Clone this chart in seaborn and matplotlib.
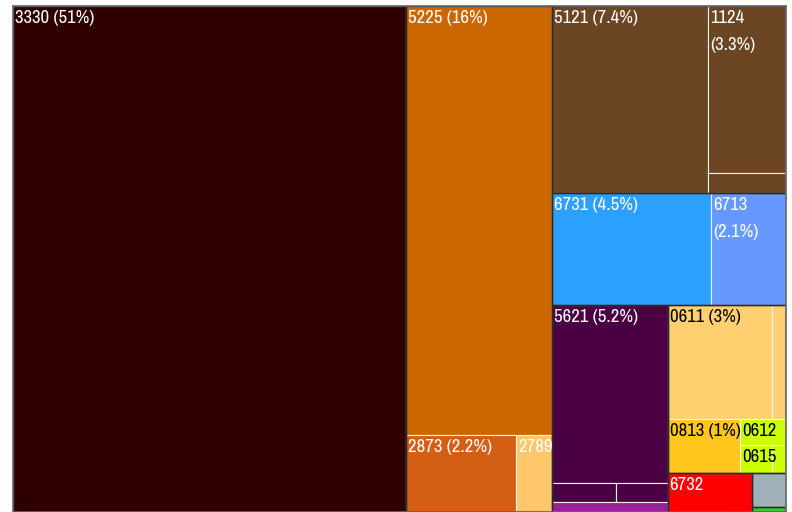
"""
Treemap of export shares by product code.
"""

import os
import matplotlib
matplotlib.use("Agg")
import matplotlib.pyplot as plt
import matplotlib.patches as mpatches
from matplotlib import font_manager
import seaborn as sns


# -----------------------------------
# Data
# -----------------------------------

codes = [
    "3330", "5225", "2873", "2789", "5121", "1124", "",
    "6731", "6713", "5621", "", "", "", "0611", "",
    "0813", "0612", "0615", "", "6732", "", "",
]

shares = [
    50.8, 16.0, 2.17, 0.71, 7.42, 3.31, 0.40,
    4.53, 2.14, 5.24, 0.31, 0.25, 0.29, 3.04, 0.41,
    1.0, 0.31, 0.22, 0.10, 0.85, 0.30, 0.04,
]

groups = [
    "fuel", "chem", "chem", "chem", "brown", "brown", "brown",
    "blue", "blue", "purple", "purple", "purple", "purple", "food", "food",
    "food", "food", "food", "food", "red", "grey", "green",
]

colors = [
    "#2e0000", "#cc6600", "#d45f14", "#ffc66b", "#6c4522", "#6c4522", "#6c4522",
    "#2ba0ff", "#6699ff", "#4b0044", "#4b0044", "#4b0044", "#9b1f9b", "#ffd06f", "#ffd06f",
    "#ffc61e", "#ccff00", "#ccff00", "#ccff00", "#ff0000", "#a0b0ba", "#33cc33",
]

text_colors = [
    "white", "white", "white", "white", "white", "white", "white",
    "white", "white", "white", "white", "white", "white", "black", "black",
    "black", "black", "black", "black", "white", "white", "white",
]

# nesting of the cells (indices into the lists above)
tree = [
    0,
    [1, [2, 3]],
    [
        [4, [5, 6]],
        [7, 8],
        [
            [9, [10, 11], 12],
            [
                [[13, 14], [15, [16, [17, 18]]]],
                [19, [20, 21]],
            ],
        ],
    ],
]


# -----------------------------------
# Layout
# -----------------------------------

def node_value(node):
    if isinstance(node, int):
        return shares[node]
    return sum(node_value(n) for n in node)


def place(node, x, y, w, h, out):
    if isinstance(node, int):
        out[node] = (x, y, w, h)
        return
    total = node_value(node)
    for child in node:
        frac = node_value(child) / total
        if w >= h:
            place(child, x, y, w * frac, h, out)
            x += w * frac
        else:
            place(child, x, y, w, h * frac, out)
            y += h * frac


def narrow_font():
    # look for a condensed face, the labels use a narrow font
    found = []
    for f in font_manager.fontManager.ttflist:
        base = os.path.basename(f.fname).lower()
        narrow = ("narrow" in f.name.lower() or "condensed" in base
                  or str(f.stretch).lower() in ("condensed", "semi-condensed"))
        if narrow and f.style == "normal" and f.weight in (400, "normal", "regular"):
            found.append(f)
    if found:
        found.sort(key=lambda f: ("narrow" not in f.name.lower(), f.name))
        return font_manager.FontProperties(fname=found[0].fname, size=13.5)
    return font_manager.FontProperties(family=["Roboto", "DejaVu Sans"], size=12)


sns.set_theme(style="white")
plt.rcParams["font.family"] = ["DejaVu Sans"]
label_font = narrow_font()

fig = plt.figure(figsize=(7.92, 5.12), dpi=100)
ax = fig.add_axes([13 / 792, 0, 773 / 792, 506 / 512])

W = 792 * ax.get_position().width
H = 512 * ax.get_position().height

cells = {}
place(tree, 0, 0, W, H, cells)

ax.set_xlim(0, W)
ax.set_ylim(H, 0)
ax.set_xticks([])
ax.set_yticks([])
for s in ax.spines.values():
    s.set_color("#666666")
    s.set_linewidth(1.2)


# -----------------------------------
# Cells
# -----------------------------------

rects = {}
for i, (x, y, w, h) in cells.items():
    r = mpatches.Rectangle(
        (x, y), w, h,
        facecolor=colors[i],
        edgecolor="#f2f2f2",
        linewidth=0.8
    )
    ax.add_patch(r)
    rects[i] = r

# darker outline around each group
for g in dict.fromkeys(groups):
    idx = [i for i in cells if groups[i] == g]
    x0 = min(cells[i][0] for i in idx)
    y0 = min(cells[i][1] for i in idx)
    x1 = max(cells[i][0] + cells[i][2] for i in idx)
    y1 = max(cells[i][1] + cells[i][3] for i in idx)
    ax.add_patch(mpatches.Rectangle(
        (x0, y0), x1 - x0, y1 - y0,
        fill=False,
        edgecolor="#2a2a2a",
        linewidth=1.0
    ))


# -----------------------------------
# Labels
# -----------------------------------

renderer = fig.canvas.get_renderer()
pad_x, pad_y = 2, 4

for i, (x, y, w, h) in cells.items():
    if not codes[i]:
        continue
    pct = f"{shares[i]:.2g}"
    if shares[i] >= 0.95:
        options = [f"{codes[i]} ({pct}%)", f"{codes[i]}\n({pct}%)", codes[i]]
    else:
        options = [codes[i]]
    for k, label in enumerate(options):
        t = ax.text(
            x + pad_x, y + pad_y, label,
            ha="left", va="top",
            fontproperties=label_font,
            color=text_colors[i],
            linespacing=1.85
        )
        bb = t.get_window_extent(renderer)
        last = k == len(options) - 1
        if last or (bb.width + 1 <= w and bb.height + 2 * pad_y <= h):
            t.set_clip_path(rects[i])
            break
        t.remove()

fig.savefig("out.png", dpi=100)
plt.close(fig)
